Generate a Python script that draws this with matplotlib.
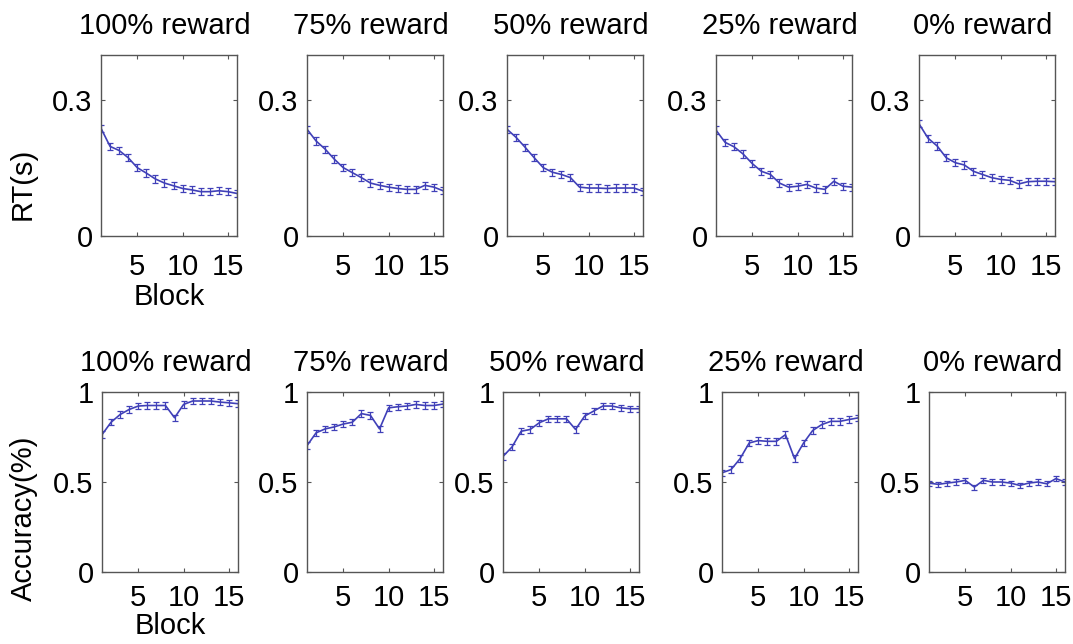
import numpy as np
import matplotlib
matplotlib.use("Agg")
import matplotlib.pyplot as plt

plt.rcParams["font.family"] = ["Liberation Sans", "DejaVu Sans"]
plt.rcParams["font.size"] = 21

# ------------------------------------------------------------
# Data: mean RT and accuracy per block, one list per reward level
# ------------------------------------------------------------
blocks = np.arange(1, 17)
conditions = ["100% reward", "75% reward", "50% reward", "25% reward", "0% reward"]

rt_100 = [0.238, 0.198, 0.189, 0.173, 0.151, 0.139, 0.126, 0.117,
          0.111, 0.105, 0.102, 0.098, 0.098, 0.100, 0.098, 0.094]
rt_75 = [0.236, 0.210, 0.192, 0.170, 0.151, 0.140, 0.129, 0.117,
         0.112, 0.108, 0.105, 0.103, 0.103, 0.112, 0.108, 0.100]
rt_50 = [0.236, 0.218, 0.196, 0.173, 0.151, 0.141, 0.136, 0.129,
         0.108, 0.106, 0.106, 0.105, 0.106, 0.106, 0.106, 0.099]
rt_25 = [0.234, 0.207, 0.197, 0.181, 0.160, 0.143, 0.136, 0.117,
         0.108, 0.110, 0.114, 0.106, 0.103, 0.121, 0.110, 0.108]
rt_0 = [0.248, 0.216, 0.199, 0.173, 0.162, 0.157, 0.143, 0.136,
        0.129, 0.125, 0.123, 0.115, 0.120, 0.121, 0.121, 0.120]

acc_100 = [0.763, 0.832, 0.875, 0.903, 0.922, 0.925, 0.925, 0.925,
           0.857, 0.931, 0.950, 0.950, 0.950, 0.944, 0.940, 0.935]
acc_75 = [0.702, 0.773, 0.795, 0.806, 0.822, 0.832, 0.880, 0.870,
          0.795, 0.912, 0.918, 0.922, 0.931, 0.925, 0.925, 0.933]
acc_50 = [0.642, 0.695, 0.782, 0.792, 0.829, 0.851, 0.851, 0.851,
          0.792, 0.866, 0.894, 0.922, 0.922, 0.912, 0.907, 0.907]
acc_25 = [0.551, 0.569, 0.630, 0.717, 0.730, 0.726, 0.726, 0.763,
          0.630, 0.717, 0.786, 0.819, 0.837, 0.837, 0.847, 0.856]
acc_0 = [0.494, 0.487, 0.494, 0.500, 0.509, 0.472, 0.509, 0.500,
         0.500, 0.494, 0.481, 0.494, 0.500, 0.490, 0.519, 0.500]

rt_sem = [0.008, 0.008, 0.008, 0.008, 0.008]
acc_sem = [0.018, 0.018, 0.018, 0.018, 0.014]

rt_all = [rt_100, rt_75, rt_50, rt_25, rt_0]
acc_all = [acc_100, acc_75, acc_50, acc_25, acc_0]

# ------------------------------------------------------------
# Layout (pixel boxes of each panel)
# ------------------------------------------------------------
W, H = 1073, 644
top_left = [101, 307, 507, 716, 919]
bot_left = [102, 307, 503, 722, 929]
panel_w = 136

fig = plt.figure(figsize=(W / 100, H / 100), dpi=100)

line_col = "#4040b8"
title_size = 21


def style(ax, xpad):
    ax.tick_params(direction="in", length=3, width=0.8, top=True, right=True,
                   color="#555555")
    ax.tick_params(axis="y", pad=6)
    ax.tick_params(axis="x", pad=xpad)
    for s in ax.spines.values():
        s.set_color("#555555")
        s.set_linewidth(1.0)
    ax.set_xlim(1, 16)
    ax.set_xticks([5, 10, 15])


for i in range(5):
    # RT row
    ax = fig.add_axes([top_left[i] / W, 1 - 236 / H, panel_w / W, 181 / H])
    ax.errorbar(blocks, rt_all[i], yerr=rt_sem[i], color=line_col, lw=1.2,
                elinewidth=0.9, capsize=2, capthick=0.9)
    style(ax, 12)
    ax.set_ylim(0, 0.4)
    ax.set_yticks([0, 0.3])
    ax.set_yticklabels(["0", "0.3"])
    ax.set_title(conditions[i], pad=15, x=0.47, fontsize=title_size)
    if i == 0:
        ax.set_ylabel("RT(s)")
        ax.yaxis.set_label_coords(-0.47, 0.29)
        ax.set_xlabel("Block", labelpad=2)

    # Accuracy row
    ax = fig.add_axes([bot_left[i] / W, 1 - 572 / H, panel_w / W, 180 / H])
    ax.errorbar(blocks, acc_all[i], yerr=acc_sem[i], color=line_col, lw=1.2,
                elinewidth=0.9, capsize=2, capthick=0.9)
    style(ax, 9)
    ax.set_ylim(0, 1)
    ax.set_yticks([0, 0.5, 1])
    ax.set_yticklabels(["0", "0.5", "1"])
    ax.set_title(conditions[i], pad=15, x=0.47, fontsize=title_size)
    if i == 0:
        ax.set_ylabel("Accuracy(%)")
        ax.yaxis.set_label_coords(-0.47, 0.3)
        ax.set_xlabel("Block", labelpad=0)

fig.savefig("out.png", dpi=100)
